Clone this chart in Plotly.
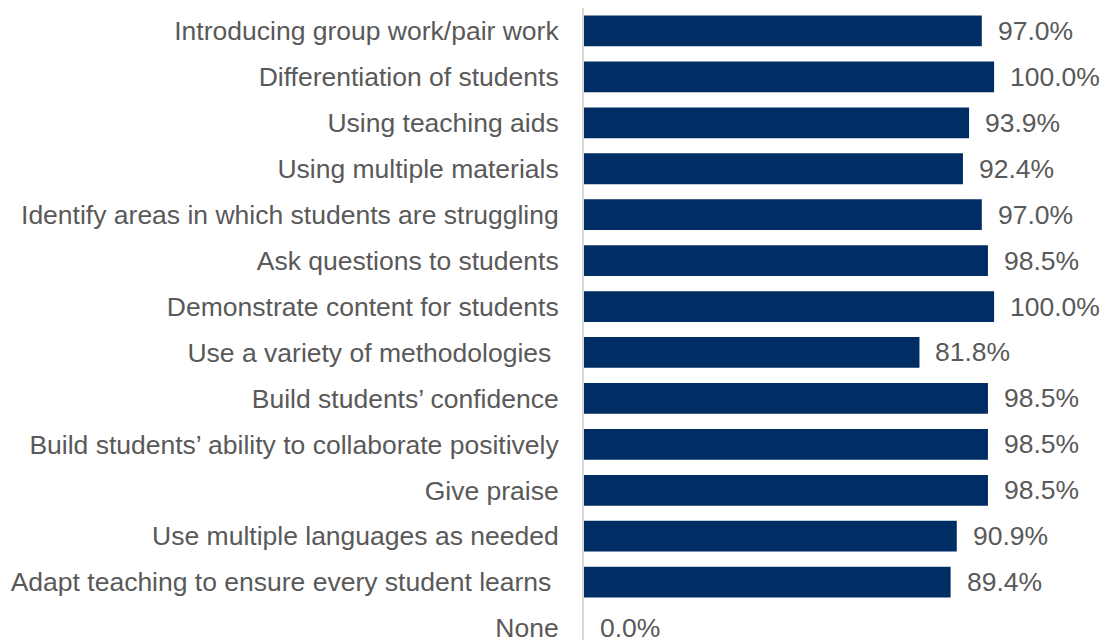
import plotly.graph_objects as go

# Survey items, listed top to bottom
categories = [
    "Introducing group work/pair work",
    "Differentiation of students",
    "Using teaching aids",
    "Using multiple materials",
    "Identify areas in which students are struggling",
    "Ask questions to students",
    "Demonstrate content for students",
    "Use a variety of methodologies\u00a0",
    "Build students\u2019 confidence",
    "Build students\u2019 ability to collaborate positively",
    "Give praise",
    "Use multiple languages as needed",
    "Adapt teaching to ensure every student learns\u00a0",
    "None",
]
# Share of respondents (%)
values = [97.0, 100.0, 93.9, 92.4, 97.0, 98.5, 100.0, 81.8, 98.5, 98.5, 98.5, 90.9, 89.4, 0.0]

BAR = "#002d63"
TEXT = "#595959"
FONT = "Liberation Sans, Arial, sans-serif"
SIZE = 26.5

fig = go.Figure(
    go.Bar(
        x=values,
        y=categories,
        orientation="h",
        marker=dict(color=BAR, line=dict(width=0)),
        width=0.67,
        hoverinfo="skip",
    )
)

# Value labels beside each bar
for c, v in zip(categories, values):
    fig.add_annotation(
        x=v, y=c, text=f"{v:.1f}%", showarrow=False,
        xanchor="left", yanchor="middle", xshift=14,
        font=dict(family=FONT, size=SIZE, color=TEXT),
    )

fig.update_layout(
    width=1104, height=640,
    margin=dict(l=584, r=0, t=8, b=0, autoexpand=False),
    paper_bgcolor="white", plot_bgcolor="white",
    showlegend=False,
    font=dict(family=FONT, size=SIZE, color=TEXT),
    xaxis=dict(
        range=[0, 126.8], visible=False, showgrid=False, zeroline=False,
    ),
    yaxis=dict(
        categoryorder="array", categoryarray=categories,
        range=[13.26, -0.5],
        showgrid=False, zeroline=False,
        showline=True, linecolor="#d9d9d9", linewidth=2,
        ticks="", ticklabelstandoff=18,
        tickfont=dict(family=FONT, size=SIZE, color=TEXT),
        automargin=False,
    ),
)

fig.write_html("out.html")
